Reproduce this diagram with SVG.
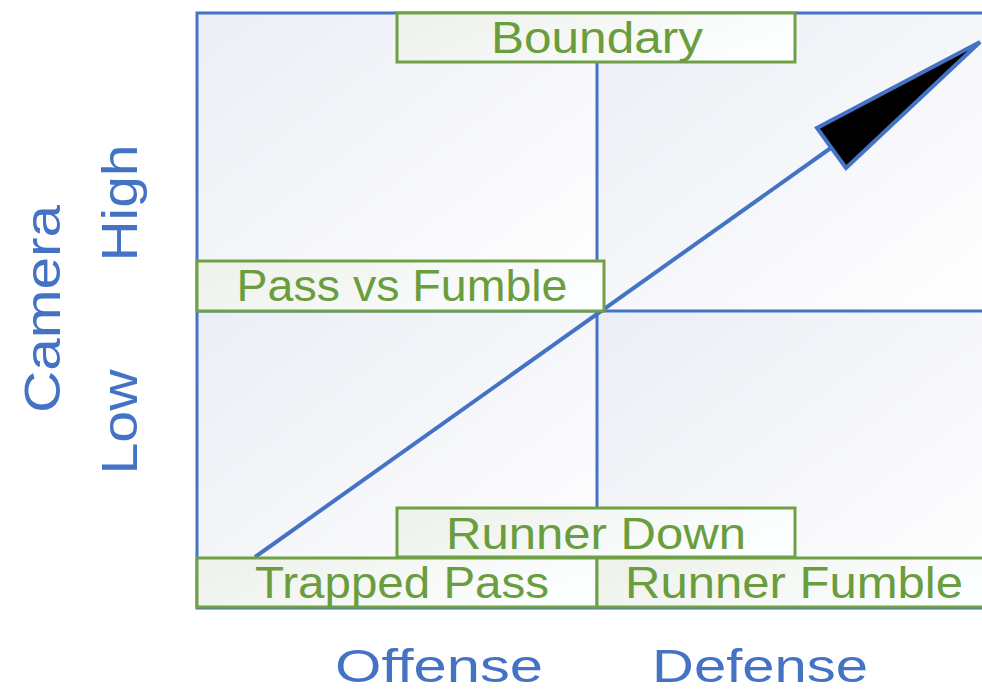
<svg xmlns="http://www.w3.org/2000/svg" width="982" height="694" viewBox="0 0 982 694">
<defs>
<linearGradient id="quad" x1="0" y1="0" x2="1" y2="1">
<stop offset="0" stop-color="#eceef5"/>
<stop offset="1" stop-color="#ffffff"/>
</linearGradient>
<linearGradient id="lbl" x1="0" y1="0" x2="1" y2="0.3">
<stop offset="0" stop-color="#eef0ea"/>
<stop offset="1" stop-color="#fbfefe"/>
</linearGradient>
<style>
.quad{fill:url(#quad);stroke:none}
.frame{fill:none;stroke:#4472c4;stroke-width:3}
.box{fill:url(#lbl);stroke:#6fa046;stroke-width:3}
.lt{font-family:"Liberation Sans",Arial,sans-serif;font-size:44px;fill:#6a9d3e;text-anchor:middle}
.ax{font-family:"Liberation Sans",Arial,sans-serif;font-size:50px;fill:#4472c4;text-anchor:middle}
.axb{font-family:"Liberation Sans",Arial,sans-serif;font-size:47px;fill:#4472c4;text-anchor:middle}
.arrow{stroke:#4472c4;stroke-width:4;fill:none}
.head{fill:#000;stroke:#4472c4;stroke-width:4;stroke-linejoin:miter}
</style>
</defs>
<rect width="982" height="694" fill="#ffffff"/>
<g id="quadrants">
<rect class="quad" x="197" y="13" width="400" height="298"/>
<rect class="quad" x="597" y="13" width="400" height="298"/>
<rect class="quad" x="197" y="311" width="400" height="297"/>
<rect class="quad" x="597" y="311" width="400" height="297"/>
<path class="frame" d="M1000 13 H197 V608 H1000 M597 13 V608 M197 311 H1000"/>
</g>
<g id="connectors">
<line class="arrow" x1="255" y1="557" x2="835" y2="145"/>
<polygon class="head" points="980,42 817,128 846,168"/>
</g>
<g id="boundary">
<rect class="box" x="397" y="13" width="398" height="49"/>
<text class="lt" x="597" y="53" textLength="212" lengthAdjust="spacingAndGlyphs">Boundary</text>
</g>
<g id="pass-vs-fumble">
<rect class="box" x="197" y="261" width="407" height="50"/>
<text class="lt" x="402" y="301" textLength="331" lengthAdjust="spacingAndGlyphs">Pass vs Fumble</text>
</g>
<g id="runner-down">
<rect class="box" x="397" y="508" width="398" height="49"/>
<text class="lt" x="596" y="549" textLength="300" lengthAdjust="spacingAndGlyphs">Runner Down</text>
</g>
<g id="trapped-pass">
<rect class="box" x="197" y="558" width="400" height="49"/>
<text class="lt" x="402" y="598" textLength="294" lengthAdjust="spacingAndGlyphs">Trapped Pass</text>
</g>
<g id="runner-fumble">
<rect class="box" x="597" y="558" width="400" height="49"/>
<text class="lt" x="794" y="598" textLength="338" lengthAdjust="spacingAndGlyphs">Runner Fumble</text>
</g>
<g id="axis-labels">
<text class="axb" x="439" y="682" textLength="208" lengthAdjust="spacingAndGlyphs">Offense</text>
<text class="axb" x="760" y="682" textLength="216" lengthAdjust="spacingAndGlyphs">Defense</text>
<text class="ax" transform="translate(60 309) rotate(-90)" x="0" y="0" textLength="208" lengthAdjust="spacingAndGlyphs">Camera</text>
<text class="ax" transform="translate(137 203) rotate(-90)" x="0" y="0" textLength="117" lengthAdjust="spacingAndGlyphs">High</text>
<text class="ax" transform="translate(137 422) rotate(-90)" x="0" y="0" textLength="105" lengthAdjust="spacingAndGlyphs">Low</text>
</g>
</svg>
